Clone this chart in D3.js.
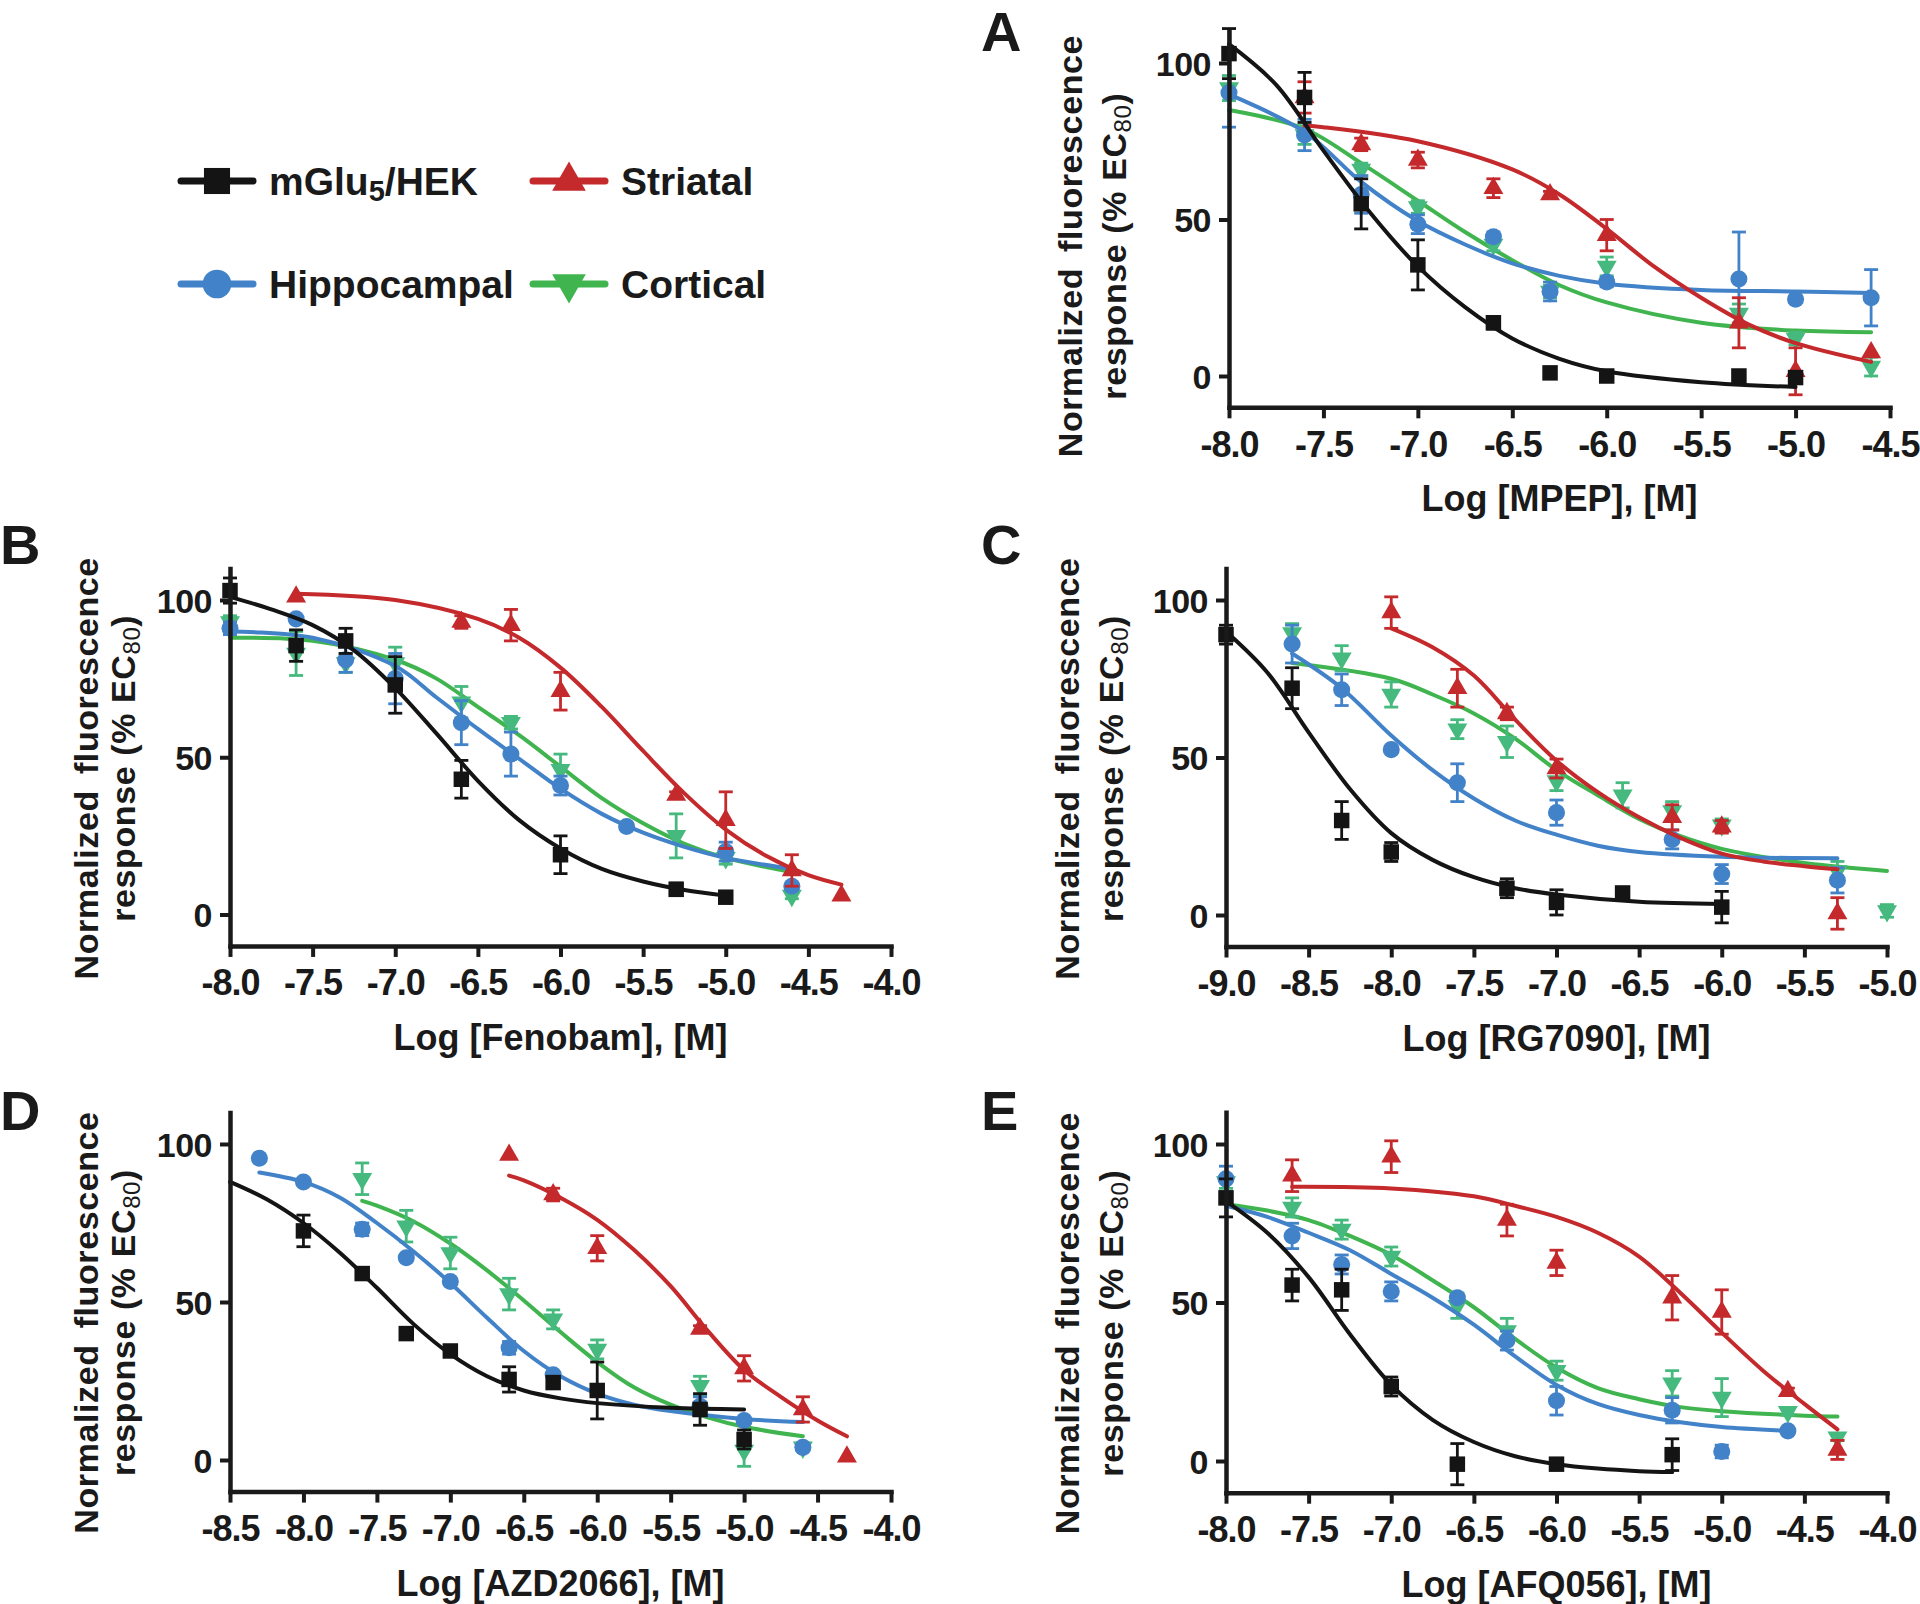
<!DOCTYPE html>
<html><head><meta charset="utf-8">
<script src="https://cdn.jsdelivr.net/npm/d3@7"></script>
<style>
body{margin:0;background:#fff;}
svg{display:block;}
text{font-family:"Liberation Sans",Arial,Helvetica,sans-serif;font-weight:bold;fill:#1a1a1a;}
</style>
</head><body>
<svg id="chart" width="1920" height="1604"></svg>
<script>
// ---------------- DATA ----------------
const seriesNames = ["mGlu5/HEK", "Striatal", "Hippocampal", "Cortical"];
const yTickValues = [0, 50, 100];
const xTicksA = [-8.0, -7.5, -7.0, -6.5, -6.0, -5.5, -5.0, -4.5];
const xTicksB = [-8.0, -7.5, -7.0, -6.5, -6.0, -5.5, -5.0, -4.5, -4.0];
const xTicksC = [-9.0, -8.5, -8.0, -7.5, -7.0, -6.5, -6.0, -5.5, -5.0];
const xTicksD = [-8.5, -8.0, -7.5, -7.0, -6.5, -6.0, -5.5, -5.0, -4.5, -4.0];
const xTicksE = [-8.0, -7.5, -7.0, -6.5, -6.0, -5.5, -5.0, -4.5, -4.0];
const drugNames = ["MPEP", "Fenobam", "RG7090", "AZD2066", "AFQ056"];

// points: [log conc, % response, SEM]; fits: [log conc, % response]
// Panel A (MPEP)
const A_hek = [[-8.0,103,8],[-7.6,89,8],[-7.3,55,8],[-7.0,35.5,8],[-6.6,17,2],[-6.3,1,0],[-6.0,0,0],[-5.3,0,0],[-5.0,-0.5,0]];
const A_hek_fit = [[-8.0,106],[-7.75,93],[-7.5,72],[-7.25,52],[-7.0,35],[-6.75,22],[-6.5,12],[-6.25,5.5],[-6.0,1.5],[-5.5,-2],[-5.0,-3.5]];
const A_str = [[-7.6,89,5],[-7.3,74,2],[-7.0,69,2.5],[-6.6,60,3],[-6.3,58,1],[-6.0,45,5],[-5.3,17,8],[-5.0,1.5,7.5],[-4.6,7.5,0]];
const A_str_fit = [[-7.6,80],[-7.5,79.5],[-7.0,75],[-6.5,66],[-6.25,58],[-6.0,47],[-5.75,35],[-5.5,25],[-5.25,16.5],[-5.0,10.5],[-4.6,4.5]];
const A_hip = [[-8.0,90.5,11],[-7.6,77,5],[-7.3,58,6],[-7.0,48.5,3],[-6.6,44.5,1.5],[-6.3,27,3],[-6.0,30,1.5],[-5.3,31,15],[-5.0,24.5,1],[-4.6,25,9]];
const A_hip_fit = [[-8.0,90],[-7.6,78],[-7.3,62],[-7.0,49.5],[-6.75,42],[-6.5,36],[-6.25,32],[-6.0,29.5],[-5.5,27.5],[-5.0,27],[-4.6,26.5]];
const A_cor = [[-8.0,92,4],[-7.6,77,3],[-7.3,66,2],[-7.0,54,2],[-6.6,42,2],[-6.3,27,2],[-6.0,35,3],[-5.3,20,3],[-5.0,12,2],[-4.6,3,3]];
const A_cor_fit = [[-8.0,85],[-7.6,79],[-7.3,68],[-7.0,56],[-6.75,46],[-6.5,37],[-6.25,29],[-6.0,23.5],[-5.5,17],[-5.0,14.5],[-4.6,14]];
// Panel B (Fenobam)
const B_hek = [[-8.0,103,4],[-7.6,85.5,5],[-7.3,87,4],[-7.0,73,9],[-6.6,43,6],[-6.0,19,6],[-5.3,8,2],[-5.0,5.5,1]];
const B_hek_fit = [[-8.0,101],[-7.75,97],[-7.5,92],[-7.25,84],[-7.0,72],[-6.75,57.5],[-6.5,42.5],[-6.25,30],[-6.0,21],[-5.75,14.5],[-5.5,10.5],[-5.25,7.8],[-5.0,6]];
const B_str = [[-7.6,101,0],[-6.6,93,2],[-6.3,92,5],[-6.0,71,6],[-5.3,38,1],[-5.0,30,9],[-4.6,14,5],[-4.3,6,0]];
const B_str_fit = [[-7.6,102],[-7.0,100],[-6.5,94],[-6.25,88],[-6.0,78.5],[-5.75,66],[-5.5,52],[-5.25,38.5],[-5.0,27],[-4.75,18.5],[-4.5,12.5],[-4.3,9.5]];
const B_hip = [[-8.0,91,2],[-7.6,94,1],[-7.3,81,4],[-7.0,75,8],[-6.6,61,7],[-6.3,51,7],[-6.0,41,3],[-5.6,28,1],[-5.0,20,3],[-4.6,9,1]];
const B_hip_fit = [[-8.0,90],[-7.5,88],[-7.0,79],[-6.75,69],[-6.5,59],[-6.25,49.5],[-6.0,40],[-5.75,32],[-5.5,26],[-5.25,21.5],[-5.0,18],[-4.6,14.5]];
const B_cor = [[-8.0,93,2],[-7.6,83,7],[-7.3,80,3],[-7.0,80,5],[-6.6,67.5,5],[-6.3,61,2],[-6.0,46,5],[-5.3,25,7],[-5.0,18,2],[-4.6,6,1]];
const B_cor_fit = [[-8.0,88],[-7.5,87],[-7.0,81],[-6.75,75],[-6.5,66],[-6.25,57],[-6.0,47],[-5.75,37],[-5.5,29],[-5.25,22.5],[-5.0,18],[-4.6,13.5]];
// Panel C (RG7090)
const C_hek = [[-9.0,89,3],[-8.6,72,6.5],[-8.3,30,6],[-8.0,20,3],[-7.3,8.5,3],[-7.0,4,4],[-6.6,7,1],[-6.0,2.5,5]];
const C_hek_fit = [[-9.0,90],[-8.75,77],[-8.5,58],[-8.25,40],[-8.0,26],[-7.75,17.5],[-7.5,12],[-7.25,8.5],[-7.0,6.5],[-6.5,4.2],[-6.0,3.5]];
const C_str = [[-8.0,96,5],[-7.6,72,6],[-7.3,64,2],[-7.0,46.5,3],[-6.3,31,4],[-6.0,28,2],[-5.3,0.5,5]];
const C_str_fit = [[-8.0,91],[-7.75,85],[-7.5,76],[-7.25,62],[-7.0,49],[-6.75,39],[-6.5,31],[-6.25,24.5],[-6.0,19.5],[-5.75,17],[-5.5,15.5],[-5.3,14.5]];
const C_hip = [[-8.6,86,6],[-8.3,71.5,5],[-8.0,52.5,1],[-7.6,42,6],[-7.0,32.5,4],[-6.3,24,3],[-6.0,13,3],[-5.3,11,4]];
const C_hip_fit = [[-8.6,83],[-8.3,72],[-8.0,57],[-7.75,46],[-7.5,37],[-7.25,30],[-7.0,25.5],[-6.75,22],[-6.5,20],[-6.0,18.5],[-5.3,18]];
const C_cor = [[-8.6,89.5,3],[-8.3,81.5,4],[-8.0,70,4],[-7.6,59,3],[-7.3,55,5],[-7.0,42.5,3],[-6.6,38,4],[-6.3,33,3],[-6.0,28.5,2],[-5.3,14,3],[-5.0,1.3,2]];
const C_cor_fit = [[-8.6,80],[-8.0,75],[-7.75,70],[-7.5,64],[-7.25,56],[-7.0,46],[-6.75,38],[-6.5,30.5],[-6.25,25],[-6.0,21],[-5.5,16.5],[-5.0,14]];
// Panel D (AZD2066)
const D_hek = [[-8.0,72.5,5],[-7.6,59,1],[-7.3,40,1],[-7.0,34.5,1],[-6.6,25.5,4],[-6.3,24.5,1],[-6.0,22,9],[-5.3,16,5],[-5.0,6.5,3]];
const D_hek_fit = [[-8.5,88],[-8.25,82.5],[-8.0,75],[-7.75,65.5],[-7.5,54.5],[-7.25,43],[-7.0,33.5],[-6.75,26.5],[-6.5,22],[-6.25,19.5],[-6.0,18],[-5.5,16.5],[-5.0,16]];
const D_str = [[-6.6,96.5,0],[-6.3,84,2],[-6.0,67,4],[-5.3,41.5,1],[-5.0,29,4],[-4.6,16,4],[-4.3,1,0]];
const D_str_fit = [[-6.6,90],[-6.5,88.5],[-6.25,83],[-6.0,76],[-5.75,66.5],[-5.5,55],[-5.25,41],[-5.0,28.5],[-4.75,20],[-4.5,12.5],[-4.3,7.5]];
const D_hip = [[-8.3,95.5,0],[-8.0,88,1],[-7.6,73,2],[-7.3,64,1],[-7.0,56.5,1],[-6.6,35.5,2],[-6.3,27,1],[-5.3,17,3],[-5.0,12.5,1],[-4.6,4,1]];
const D_hip_fit = [[-8.3,91],[-8.0,88],[-7.75,83],[-7.5,75],[-7.25,66],[-7.0,56],[-6.75,45],[-6.5,34.5],[-6.25,26.5],[-6.0,21],[-5.75,17.5],[-5.5,15.5],[-5.0,13],[-4.6,12]];
const D_cor = [[-7.6,89,5],[-7.3,74,5],[-7.0,65.5,5],[-6.6,52.5,5],[-6.3,44.5,3],[-6.0,35,3],[-5.3,23.5,3],[-5.0,3,5],[-4.6,4,1]];
const D_cor_fit = [[-7.6,82],[-7.5,80.5],[-7.25,75.5],[-7.0,68.5],[-6.75,60],[-6.5,50.5],[-6.25,40.5],[-6.0,31],[-5.75,23],[-5.5,17.5],[-5.25,13.5],[-5.0,10.5],[-4.6,7.5]];
// Panel E (AFQ056)
const E_hek = [[-8.0,83,6],[-7.6,55.5,5],[-7.3,54,6.5],[-7.0,23.5,3],[-6.6,-1,6.5],[-6.0,-1,1],[-5.3,2,5]];
const E_hek_fit = [[-8.0,82],[-7.75,72],[-7.5,58],[-7.25,40],[-7.0,24],[-6.75,13],[-6.5,6],[-6.25,1.5],[-6.0,-1],[-5.75,-2.4],[-5.5,-3.2],[-5.3,-3.5]];
const E_str = [[-7.6,90,5],[-7.0,96,5],[-6.3,76,5],[-6.0,62.5,4],[-5.3,51.5,7],[-5.0,47,7],[-4.6,22,1],[-4.3,3.5,3]];
const E_str_fit = [[-7.6,86.5],[-7.0,86],[-6.5,83.5],[-6.25,80.5],[-6.0,77],[-5.75,72],[-5.5,64.5],[-5.25,53],[-5.0,40.5],[-4.75,28.5],[-4.5,18],[-4.3,10]];
const E_hip = [[-8.0,89,4],[-7.6,71,4],[-7.3,62,3],[-7.0,53.5,3],[-6.6,51.5,1],[-6.3,38,3],[-6.0,19,4.5],[-5.3,16,4],[-5.0,3,2],[-4.6,9.5,1]];
const E_hip_fit = [[-8.0,80.5],[-7.75,77],[-7.5,72],[-7.25,66.5],[-7.0,59],[-6.75,51.5],[-6.5,43],[-6.25,33],[-6.0,24],[-5.75,18],[-5.5,14.5],[-5.25,12.2],[-5.0,10.7],[-4.6,9.5]];
const E_cor = [[-8.0,88,2],[-7.6,80,3],[-7.3,73,3],[-7.0,64.5,3],[-6.6,49,4],[-6.3,41,4],[-6.0,28.5,3],[-5.3,24.5,4],[-5.0,20,6],[-4.6,15.5,1],[-4.3,7.5,1]];
const E_cor_fit = [[-8.0,81],[-7.75,79],[-7.5,76],[-7.25,71],[-7.0,65],[-6.75,57],[-6.5,48.5],[-6.25,38.5],[-6.0,29.5],[-5.75,23],[-5.5,19.5],[-5.25,17],[-5.0,15.7],[-4.5,14.3],[-4.3,14]];

// ---------------- STYLE / LAYOUT ----------------
const lineColors = {hek:"#141414", str:"#c4292c", hip:"#4282c8", cor:"#40b54f"};
const markColors = {hek:"#141414", str:"#c4292c", hip:"#4282c8", cor:"#45b97e"};
const shapes = {hek:"square", str:"tri", hip:"circle", cor:"itri"};
const drawOrder = ["cor","hip","str","hek"];

const panels = [
  {letter:"A", drug:drugNames[0], xDomain:[-8.0,-4.5], xTicks:xTicksA,
   data:{hek:[A_hek,A_hek_fit], str:[A_str,A_str_fit], hip:[A_hip,A_hip_fit], cor:[A_cor,A_cor_fit]},
   L:{left:1229, y0:376, y100:63, t1:-147, t2:-103, tc:41.5, lx:981, ly:51}},
  {letter:"B", drug:drugNames[1], xDomain:[-8.0,-4.0], xTicks:xTicksB,
   data:{hek:[B_hek,B_hek_fit], str:[B_str,B_str_fit], hip:[B_hip,B_hip_fit], cor:[B_cor,B_cor_fit]},
   L:{left:230, y0:914.5, y100:600, t1:-132, t2:-95, tc:46.5, lx:0, ly:564}},
  {letter:"C", drug:drugNames[2], xDomain:[-9.0,-5.0], xTicks:xTicksC,
   data:{hek:[C_hek,C_hek_fit], str:[C_str,C_str_fit], hip:[C_hip,C_hip_fit], cor:[C_cor,C_cor_fit]},
   L:{left:1226, y0:915, y100:600, t1:-147, t2:-103, tc:46.5, lx:981, ly:564}},
  {letter:"D", drug:drugNames[3], xDomain:[-8.5,-4.0], xTicks:xTicksD,
   data:{hek:[D_hek,D_hek_fit], str:[D_str,D_str_fit], hip:[D_hip,D_hip_fit], cor:[D_cor,D_cor_fit]},
   L:{left:230, y0:1460, y100:1144, t1:-132, t2:-95, tc:43.5, lx:0, ly:1130}},
  {letter:"E", drug:drugNames[4], xDomain:[-8.0,-4.0], xTicks:xTicksE,
   data:{hek:[E_hek,E_hek_fit], str:[E_str,E_str_fit], hip:[E_hip,E_hip_fit], cor:[E_cor,E_cor_fit]},
   L:{left:1226, y0:1461, y100:1144, t1:-147, t2:-103, tc:43.5, lx:981, ly:1130}}
];

const AXIS_W = 661;
const svg = d3.select("#chart");
const ink = "#1a1a1a";

function symbolPath(shape, size) {
  if (shape === "square") return d3.symbol().type(d3.symbolSquare).size(size)();
  if (shape === "circle") return d3.symbol().type(d3.symbolCircle).size(size * 0.95)();
  return d3.symbol().type(d3.symbolTriangle).size(size * 0.72)();
}
function symbolTransform(shape, x, y) {
  return shape === "itri" ? `translate(${x},${y}) rotate(180)` : `translate(${x},${y})`;
}

function drawPanel(p) {
  const L = p.L;
  const span = L.y0 - L.y100;
  const x = d3.scaleLinear().domain(p.xDomain).range([L.left, L.left + AXIS_W]);
  const y = d3.scaleLinear().domain([-10, 110]).range([L.y0 + 0.1 * span, L.y100 - 0.1 * span]);
  const g = svg.append("g");
  const axisY = y(-10);

  // series
  const line = d3.line().x(d => x(d[0])).y(d => y(d[1])).curve(d3.curveCatmullRom.alpha(0.5));
  drawOrder.forEach(k => {
    const [pts, fit] = p.data[k];
    const lc = lineColors[k], mc = markColors[k];
    const sg = g.append("g");
    sg.append("path").datum(fit).attr("d", line)
      .attr("fill", "none").attr("stroke", lc).attr("stroke-width", 4)
      .attr("stroke-linecap", "round");
    const eb = sg.selectAll("g.eb").data(pts.filter(d => d[2] > 0)).join("g")
      .attr("stroke", mc).attr("stroke-width", 2.8).attr("fill", "none");
    eb.append("line").attr("x1", d => x(d[0])).attr("x2", d => x(d[0]))
      .attr("y1", d => y(d[1] - d[2])).attr("y2", d => y(d[1] + d[2]));
    eb.append("line").attr("x1", d => x(d[0]) - 7).attr("x2", d => x(d[0]) + 7)
      .attr("y1", d => y(d[1] + d[2])).attr("y2", d => y(d[1] + d[2]));
    eb.append("line").attr("x1", d => x(d[0]) - 7).attr("x2", d => x(d[0]) + 7)
      .attr("y1", d => y(d[1] - d[2])).attr("y2", d => y(d[1] - d[2]));
    sg.selectAll("path.pt").data(pts).join("path").attr("class", "pt")
      .attr("d", symbolPath(shapes[k], 240))
      .attr("transform", d => symbolTransform(shapes[k], x(d[0]), y(d[1])))
      .attr("fill", mc);
  });

  // axes
  const xa = g.append("g").attr("transform", `translate(0,${axisY})`)
    .call(d3.axisBottom(x).tickValues(p.xTicks).tickFormat(d => d.toFixed(1))
      .tickSize(11).tickSizeOuter(0).tickPadding(13));
  const ya = g.append("g").attr("transform", `translate(${L.left},0)`)
    .call(d3.axisLeft(y).tickValues(yTickValues).tickFormat(d => String(d))
      .tickSize(10).tickSizeOuter(0).tickPadding(8));
  [xa, ya].forEach(a => {
    a.attr("font-family", null).attr("color", ink);
    a.select(".domain").attr("stroke-width", 4.5).attr("stroke-linecap", "square");
    a.selectAll(".tick line").attr("stroke-width", 4);
  });
  xa.attr("font-size", 36);
  xa.selectAll(".tick text").style("letter-spacing", "-1px");
  ya.attr("font-size", 34);
  ya.selectAll(".tick text").attr("dy", "0.36em").style("letter-spacing", "-0.5px");

  // axis titles
  g.append("text").attr("x", L.left + AXIS_W / 2).attr("y", axisY + 104)
    .attr("text-anchor", "middle").attr("font-size", 36)
    .text(`Log [${p.drug}], [M]`);
  const yc = y(L.tc);
  const t = g.append("g").attr("transform", `translate(${L.left},${yc}) rotate(-90)`);
  t.append("text").attr("x", 0).attr("y", L.t1).attr("text-anchor", "middle")
    .attr("font-size", 34).style("letter-spacing", "0.6px").style("word-spacing", "6px")
    .text("Normalized fluorescence");
  const t2 = t.append("text").attr("x", 0).attr("y", L.t2).attr("text-anchor", "middle")
    .attr("font-size", 34).style("letter-spacing", "0.6px");
  t2.append("tspan").text("response (% EC");
  t2.append("tspan").attr("font-size", 24).attr("font-weight", "normal").attr("dy", 5).text("80");
  t2.append("tspan").attr("dy", -5).text(")");

  // panel letter
  svg.append("text").attr("x", L.lx).attr("y", L.ly).attr("font-size", 56).text(p.letter);
}

panels.forEach(drawPanel);

// legend
const legendItems = [
  {k:"hek", label:["mGlu", "5", "/HEK"], lx:181, ly:181},
  {k:"str", label:["Striatal"], lx:533, ly:181},
  {k:"hip", label:["Hippocampal"], lx:181, ly:284},
  {k:"cor", label:["Cortical"], lx:533, ly:284}
];
legendItems.forEach(it => {
  const c = lineColors[it.k];
  const g = svg.append("g");
  g.append("line").attr("x1", it.lx).attr("x2", it.lx + 72).attr("y1", it.ly).attr("y2", it.ly)
    .attr("stroke", c).attr("stroke-width", 7).attr("stroke-linecap", "round");
  g.append("path").attr("d", symbolPath(shapes[it.k], 680))
    .attr("transform", symbolTransform(shapes[it.k], it.lx + 36, it.ly)).attr("fill", c);
  const tx = g.append("text").attr("x", it.lx + 88).attr("y", it.ly + 14).attr("font-size", 39);
  tx.append("tspan").text(it.label[0]);
  if (it.label.length > 1) {
    tx.append("tspan").attr("font-size", 29).attr("dy", 6).text(it.label[1]);
    tx.append("tspan").attr("dy", -6).text(it.label[2]);
  }
});
</script>
</body></html>
